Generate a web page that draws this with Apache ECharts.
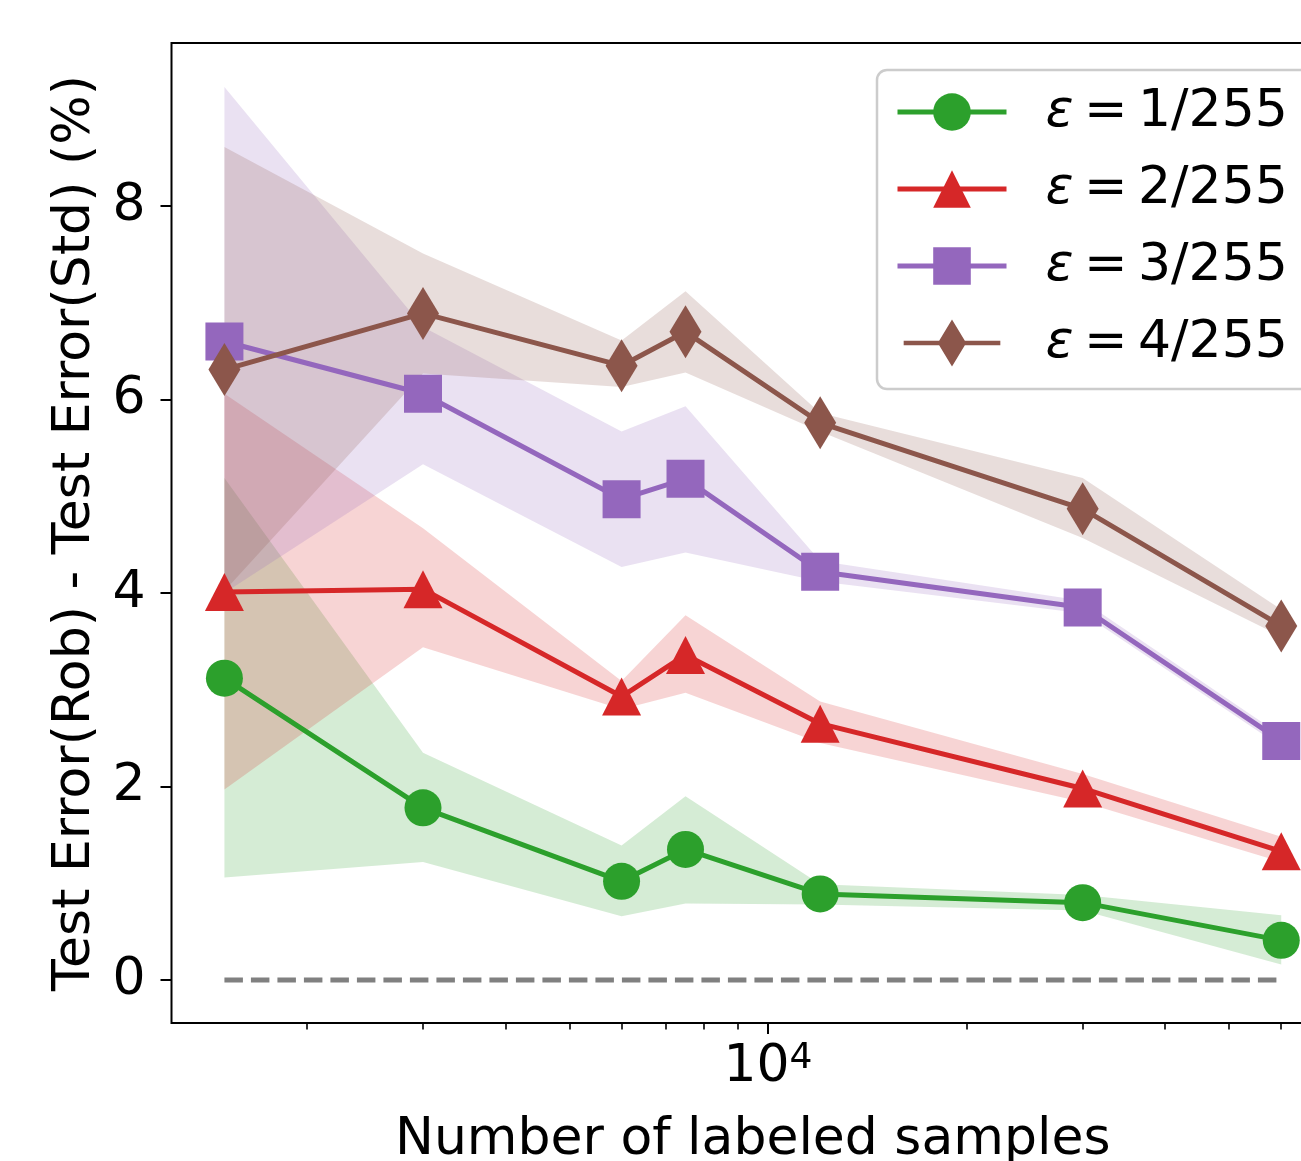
<!DOCTYPE html>
<html>
<head>
<meta charset="utf-8">
<title>Test error gap vs labeled samples</title>
<script src="https://cdn.jsdelivr.net/npm/echarts@6/dist/echarts.min.js"></script>
<style>
    html, body {
        margin: 0;
        padding: 0;
        background: #fff;
    }
    #chart {
        width: 1301px;
        height: 1161px;
    }
</style>
</head>
<body>
<div id="chart"></div>
<script>
    // number of labeled samples (log x axis)
    var samples = [1500, 3000, 6000, 7500, 12000, 30000, 60000];

    // eps = 1/255
    var eps1Mean = [3.12, 1.78, 1.02, 1.35, 0.89, 0.80, 0.41];
    var eps1Low = [1.06, 1.22, 0.66, 0.79, 0.78, 0.72, 0.16];
    var eps1High = [5.19, 2.35, 1.39, 1.90, 0.99, 0.88, 0.67];

    // eps = 2/255
    var eps2Mean = [4.01, 4.04, 2.93, 3.36, 2.65, 1.98, 1.33];
    var eps2Low = [1.97, 3.44, 2.80, 2.97, 2.45, 1.84, 1.22];
    var eps2High = [6.06, 4.67, 3.09, 3.77, 2.88, 2.13, 1.48];

    // eps = 3/255
    var eps3Mean = [6.60, 6.06, 4.97, 5.18, 4.22, 3.85, 2.47];
    var eps3Low = [4.00, 5.33, 4.27, 4.42, 4.12, 3.79, 2.41];
    var eps3High = [9.23, 6.75, 5.67, 5.93, 4.33, 3.92, 2.53];

    // eps = 4/255
    var eps4Mean = [6.31, 6.89, 6.35, 6.70, 5.76, 4.87, 3.66];
    var eps4Low = [4.02, 6.27, 6.13, 6.28, 5.67, 4.57, 3.55];
    var eps4High = [8.61, 7.51, 6.61, 7.12, 5.86, 5.19, 3.83];

    var seriesNames = ['ε = 1/255', 'ε = 2/255', 'ε = 3/255', 'ε = 4/255'];
    var seriesColors = ['#2ca02c', '#d62728', '#9467bd', '#8c564b'];

    // axis ticks
    var yTicks = [0, 2, 4, 6, 8];
    var xMajorTicks = [10000];
    var xMinorTicks = [2000, 3000, 4000, 5000, 6000, 7000, 8000, 9000, 20000, 30000, 40000, 50000, 60000];
    var zeroLineX = [1500, 60000];
    var zeroLineY = [0, 0];

    var FONT = 'DejaVu Sans';

    function pairs(xs, ys) {
        return xs.map(function (x, i) { return [x, ys[i]]; });
    }
    function bandRows(xs, lo, hi) {
        return xs.map(function (x, i) { return [x, lo[i], hi[i]]; });
    }

    var means = [eps1Mean, eps2Mean, eps3Mean, eps4Mean];
    var lows = [eps1Low, eps2Low, eps3Low, eps4Low];
    var highs = [eps1High, eps2High, eps3High, eps4High];
    var symbols = ['circle', 'triangle', 'rect', 'diamond'];
    var symbolSizes = [37, [39, 38], 38, [32, 53]];

    // one polygon per band: upper edge left->right, lower edge back
    function bandRenderer(color) {
        return function (params, api) {
            if (params.dataIndexInside !== 0) return;
            var n = params.dataInsideLength;
            var top = [], bottom = [];
            for (var j = 0; j < n; j++) {
                var x = api.value(0, j);
                top.push(api.coord([x, api.value(2, j)]));
                bottom.unshift(api.coord([x, api.value(1, j)]));
            }
            return {
                type: 'polygon',
                shape: {points: top.concat(bottom)},
                style: {fill: color, opacity: 0.2},
                silent: true
            };
        };
    }

    var series = [];

    // shaded bands first (fills sit under the lines)
    for (var i = 0; i < 4; i++) {
        series.push({
            name: 'band-' + i,
            type: 'custom',
            data: bandRows(samples, lows[i], highs[i]),
            encode: {x: 0, y: [1, 2]},
            renderItem: bandRenderer(seriesColors[i]),
            silent: true,
            z: 1
        });
    }

    // zero reference line
    series.push({
        name: 'zero',
        type: 'line',
        data: pairs(zeroLineX, zeroLineY),
        symbol: 'none',
        lineStyle: {color: '#808080', width: 5, type: [18.5, 8]},
        silent: true,
        z: 2
    });

    for (var k = 0; k < 4; k++) {
        series.push({
            name: seriesNames[k],
            type: 'line',
            data: pairs(samples, means[k]),
            symbol: symbols[k],
            symbolSize: symbolSizes[k],
            showSymbol: true,
            color: seriesColors[k],
            lineStyle: {color: seriesColors[k], width: 5},
            itemStyle: {color: seriesColors[k]},
            emphasis: {disabled: true},
            z: 3 + k
        });
    }

    // thin diamond with line through it for the legend
    var diamondIcon = 'path://M0,26.5 L40,26.5 L54.5,2.5 L69,26.5 L109,26.5 L109,31.5 L69,31.5 L54.5,55.5 L40,31.5 L0,31.5 Z';

    var option = {
        animation: false,
        backgroundColor: '#fff',
        textStyle: {fontFamily: FONT, color: '#000'},
        grid: {
            left: 171.5,
            width: 1162.5,
            top: 43,
            bottom: 138,
            outerBoundsMode: 'none',
            containLabel: false,
            show: true,
            borderColor: '#000',
            borderWidth: 2,
            backgroundColor: 'transparent'
        },
        legend: {
            orient: 'vertical',
            left: 877,
            top: 70,
            padding: [16, 40, 20, 18],
            itemWidth: 109,
            itemHeight: 47,
            itemGap: 25,
            selectedMode: false,
            backgroundColor: 'rgba(255,255,255,0.8)',
            borderColor: '#cccccc',
            borderWidth: 2.5,
            borderRadius: 10,
            lineStyle: {width: 5},
            data: [
                {name: seriesNames[0]},
                {name: seriesNames[1]},
                {name: seriesNames[2]},
                {name: seriesNames[3], icon: diamondIcon}
            ],
            formatter: function (name) {
                return '{g|}{e|ε}{t|' + name.slice(1).replace(/ /g, '\u2009') + '}';
            },
            textStyle: {
                fontFamily: FONT,
                fontSize: 52,
                color: '#000',
                rich: {
                    g: {width: 34, lineHeight: 50},
                    e: {fontFamily: FONT, fontSize: 52, fontStyle: 'italic', lineHeight: 50, color: '#000'},
                    t: {fontFamily: FONT, fontSize: 52, lineHeight: 50, color: '#000'}
                }
            }
        },
        xAxis: [
            {
                type: 'log',
                logBase: 10,
                min: 1247,
                max: 72130,
                position: 'bottom',
                axisLine: {show: false, onZero: false},
                axisTick: {
                    show: true,
                    customValues: xMajorTicks,
                    length: 11,
                    lineStyle: {color: '#000', width: 2}
                },
                axisLabel: {
                    customValues: xMajorTicks,
                    margin: 18,
                    formatter: function (v) {
                        return '{b|10}{s|' + Math.round(Math.log10(v)) + '}';
                    },
                    rich: {
                        b: {fontFamily: FONT, fontSize: 52, lineHeight: 52, color: '#000'},
                        s: {fontFamily: FONT, fontSize: 36, lineHeight: 26, verticalAlign: 'top', color: '#000'}
                    }
                },
                splitLine: {show: false},
                minorTick: {show: false},
                name: 'Number of labeled samples',
                nameLocation: 'middle',
                nameGap: 91,
                nameTextStyle: {fontFamily: FONT, fontSize: 52, color: '#000'}
            },
            {
                type: 'log',
                logBase: 10,
                min: 1247,
                max: 72130,
                position: 'bottom',
                axisLine: {show: false, onZero: false},
                axisTick: {
                    show: true,
                    customValues: xMinorTicks,
                    length: 6.5,
                    lineStyle: {color: '#000', width: 1.6}
                },
                axisLabel: {show: false},
                splitLine: {show: false}
            }
        ],
        yAxis: {
            type: 'value',
            min: -0.444,
            max: 9.685,
            axisLine: {show: false, onZero: false},
            axisTick: {
                show: true,
                customValues: yTicks,
                length: 11,
                lineStyle: {color: '#000', width: 2}
            },
            axisLabel: {
                customValues: yTicks,
                margin: 26,
                fontFamily: FONT,
                fontSize: 52,
                color: '#000'
            },
            splitLine: {show: false},
            name: 'Test Error(Rob) - Test Error(Std) (%)',
            nameLocation: 'middle',
            nameRotate: 90,
            nameGap: 70,
            nameTextStyle: {fontFamily: FONT, fontSize: 52, color: '#000'}
        },
        series: series
    };

    var chart = echarts.init(document.getElementById('chart'), null, {renderer: 'canvas'});
    chart.setOption(option);
</script>
</body>
</html>
